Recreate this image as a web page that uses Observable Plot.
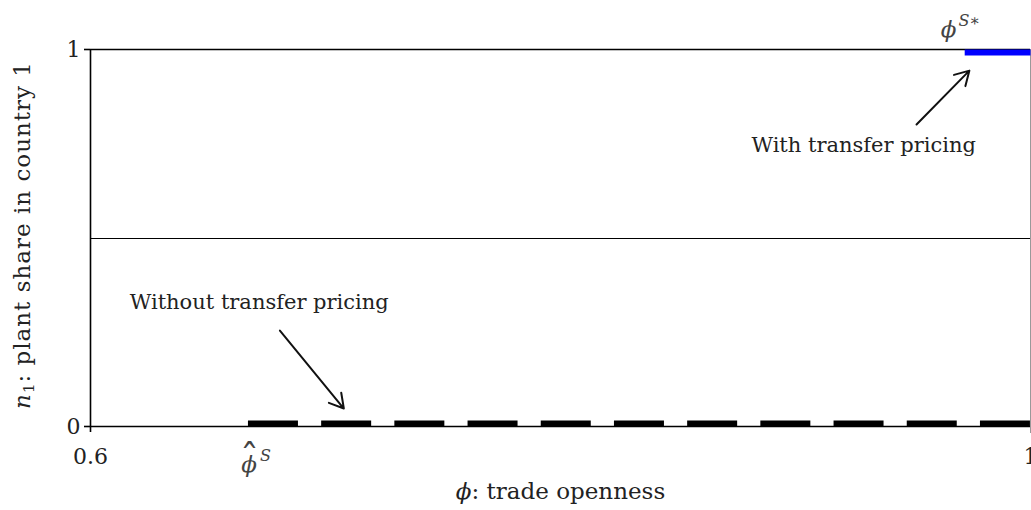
<!DOCTYPE html>
<html>
<head>
<meta charset="utf-8">
<script src="https://cdn.jsdelivr.net/npm/d3@7"></script>
<script src="https://cdn.jsdelivr.net/npm/@observablehq/plot@0.6"></script>
<style>
  html, body { margin: 0; padding: 0; background: #fff; }
  svg { display: block; }
</style>
</head>
<body>
<div id="chart"></div>
<script>
// ---- data ----
const xDomain = [0.6, 1];
const yDomain = [0, 1];
const xTicks = [0.6, 1];
const xTickLabels = ["0.6", "1"];
const yTicks = [0, 1];
const yTickLabels = ["0", "1"];
const phiHat = 0.667;     // threshold without transfer pricing
const phiStar = 0.972;    // threshold with transfer pricing
const symmetricShare = 0.5;
const withoutX = [phiHat, 1];
const withoutY = [0, 0];
const withX = [phiStar, 1];
const withY = [1, 1];
const labelTexts = ["Without transfer pricing", "With transfer pricing"];
const labelX = [0.6718, 0.929];
const labelY = [0.33, 0.745];
const arrowX1 = [0.6806, 0.9515];
const arrowY1 = [0.2546, 0.801];
const arrowX2 = [0.7078, 0.974];
const arrowY2 = [0.0477, 0.944];
const xLabel = "ϕ: trade openness";
const yLabel = "n1: plant share in country 1";

const FONT = "DejaVu Serif";

const withoutData = withoutX.map((x, i) => ({x, y: withoutY[i]}));
const withData = withX.map((x, i) => ({x, y: withY[i]}));
const labels = labelTexts.map((t, i) => ({t, x: labelX[i], y: labelY[i]}));
const arrows = arrowX1.map((x1, i) => ({x1, y1: arrowY1[i], x2: arrowX2[i], y2: arrowY2[i]}));

const chart = Plot.plot({
  width: 1031,
  height: 510,
  marginLeft: 90,
  marginRight: 1,
  marginTop: 49,
  marginBottom: 84,
  style: {fontFamily: FONT, fontSize: "20px", color: "#222", background: "#fff", overflow: "visible"},
  x: {domain: xDomain},
  y: {domain: yDomain},
  marks: [
    Plot.ruleY([symmetricShare], {stroke: "#000", strokeWidth: 1, dy: 0.5}),
    Plot.ruleY([1], {stroke: "#000", strokeWidth: 1.6}),
    Plot.ruleX([1], {stroke: "#999", strokeWidth: 1, y1: 1, y2: 0, insetBottom: -7}),
    Plot.ruleX([0.6], {stroke: "#000", strokeWidth: 1.6, insetBottom: -6, insetTop: 0}),
    Plot.ruleY([0], {stroke: "#000", strokeWidth: 1.6}),
    Plot.line(withoutData, {x: "x", y: "y", stroke: "#000", strokeWidth: 6, strokeDasharray: "50,23.2", strokeLinecap: "butt", dy: -3}),
    Plot.line(withData, {x: "x", y: "y", stroke: "#0000ff", strokeWidth: 6, strokeLinecap: "butt", dy: 3}),
    Plot.axisX({ticks: xTicks, tickFormat: (d, i) => xTickLabels[i], tickSize: 0, tickPadding: 22, fontSize: 22, label: null, fill: "#222"}),
    Plot.axisY({ticks: yTicks, tickFormat: (d, i) => yTickLabels[i], tickSize: 6, tickPadding: 4, fontSize: 22, label: null, fill: "#222", stroke: "#000", strokeWidth: 1.6}),
    Plot.text([xLabel], {frameAnchor: "bottom", dy: 72, fontSize: 23, fill: "#222", className: "xlab"}),
    Plot.text([yLabel], {frameAnchor: "left", textAnchor: "middle", dx: -68, dy: -3, rotate: -90, fontSize: 23, fill: "#222", className: "ylab"}),
    Plot.text(labels, {x: "x", y: "y", text: "t", fontSize: 21, fill: "#222"}),
    Plot.arrow(arrows, {x1: "x1", y1: "y1", x2: "x2", y2: "y2", stroke: "#111", strokeWidth: 2, headLength: 12, bend: 0}),
    Plot.text([phiHat], {x: d => d, y: 0, text: () => "ϕ", textAnchor: "start", dx: -8, dy: 38, fontSize: 23, fill: "#444", fontStyle: "italic", className: "phihat"}),
    Plot.text([phiStar], {x: d => d, y: 1, text: () => "ϕ", textAnchor: "start", dx: -24, dy: -20, fontSize: 23, fill: "#444", fontStyle: "italic", className: "phistar"})
  ]
});

document.getElementById("chart").appendChild(chart);

// phi-hat with superscript S, built as one text element
const ph = d3.select(chart).select(".phihat text");
if (!ph.empty()) {
  ph.append("tspan").attr("font-size", "38px").attr("font-style", "normal").attr("font-weight", "300").attr("dx", "-17").attr("dy", "-1").text("\u02C6");
  ph.append("tspan").attr("font-size", "16px").attr("dx", "1").attr("dy", "-10").text("S");
}
// phi-star with superscript S*
const ps = d3.select(chart).select(".phistar text");
if (!ps.empty()) {
  ps.append("tspan").attr("font-size", "16px").attr("dx", "2").attr("dy", "-11").text("S∗");
}

// format y label with italic n and subscript 1
const yl = d3.select(chart).select(".ylab text");
if (!yl.empty()) {
  yl.text(null);
  yl.attr("letter-spacing", "1px");
  yl.append("tspan").attr("font-style", "italic").text("n");
  yl.append("tspan").attr("font-size", "15px").attr("dy", "4").text("1");
  yl.append("tspan").attr("dy", "-4").text(": plant share in country 1");
}
// italic phi in x label
const xl = d3.select(chart).select(".xlab text");
if (!xl.empty()) {
  xl.text(null);
  xl.append("tspan").attr("font-style", "italic").text("ϕ");
  xl.append("tspan").text(": trade openness");
}
</script>
</body>
</html>
